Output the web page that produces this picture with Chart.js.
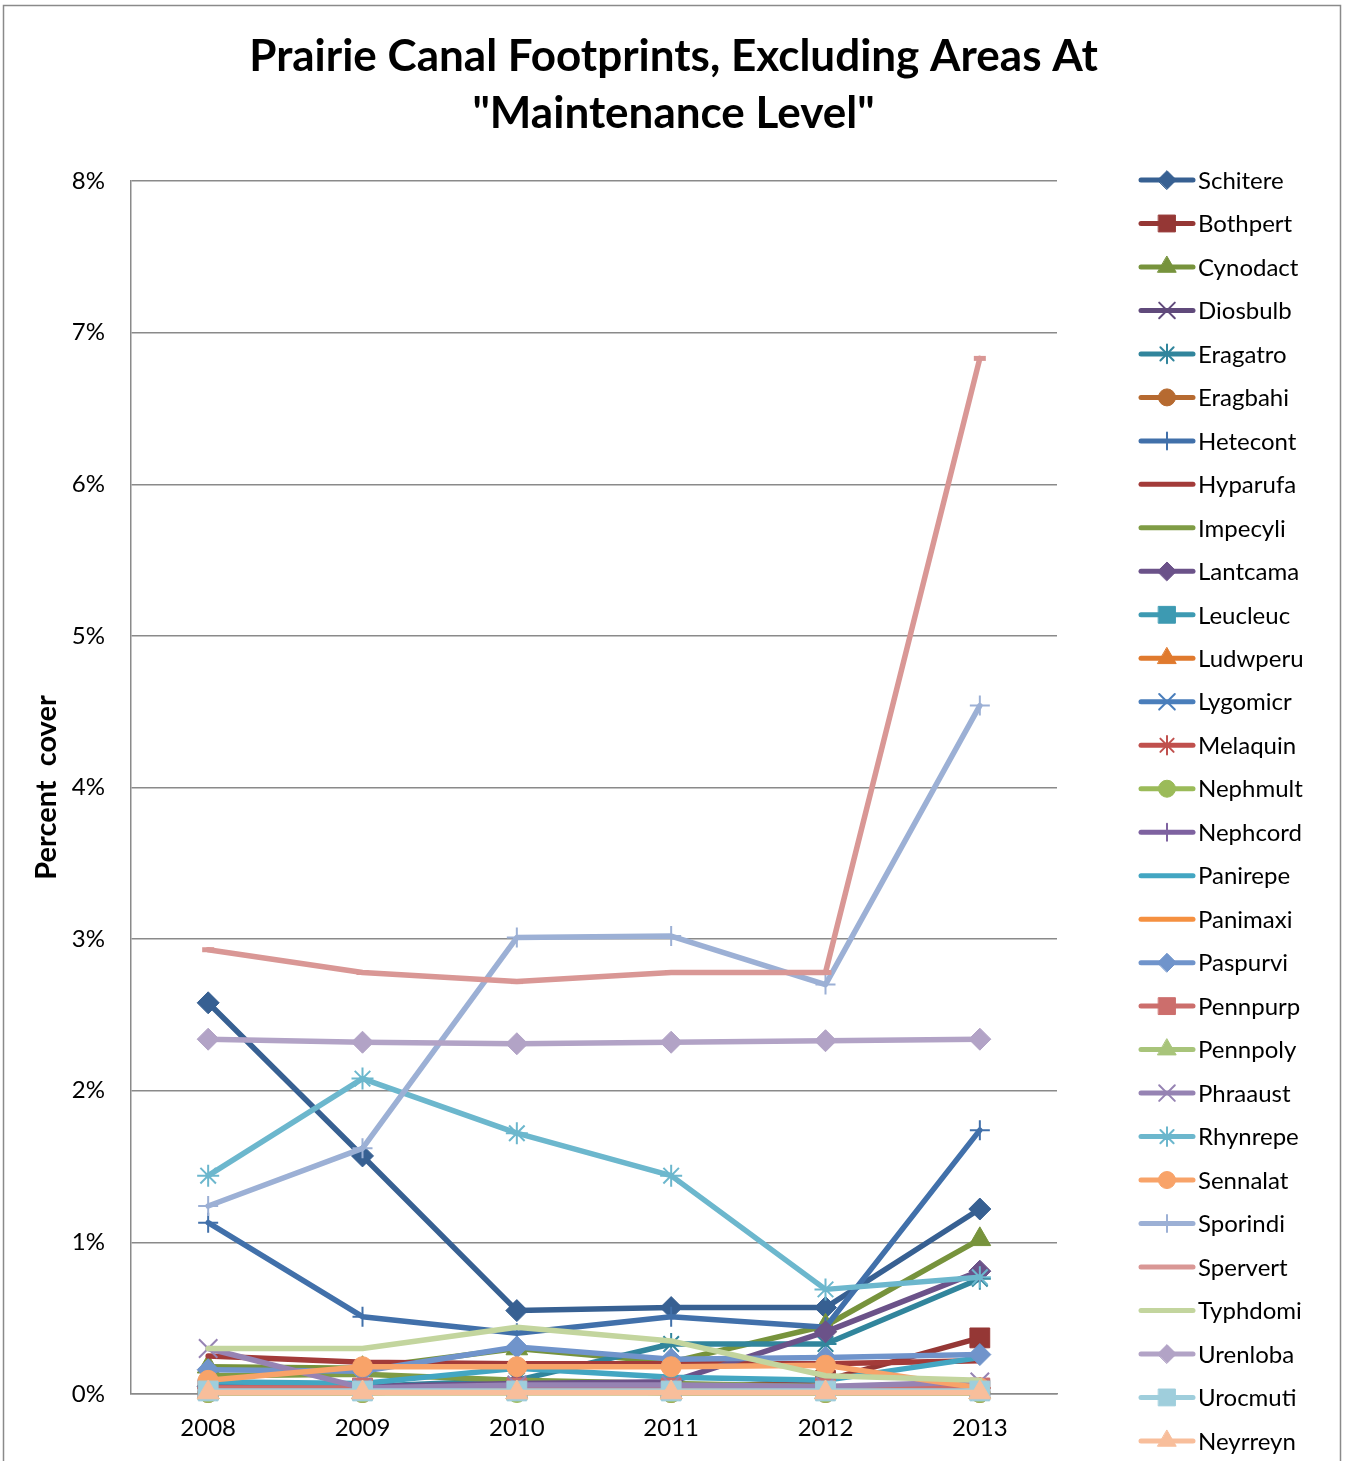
<!DOCTYPE html>
<html>
<head>
<meta charset="utf-8">
<title>Prairie Canal Footprints</title>
<script src="https://cdn.jsdelivr.net/npm/chart.js@4/dist/chart.umd.min.js"></script>
<style>
  html, body { margin: 0; padding: 0; background: #fff; }
  #wrap { width: 1347px; height: 1461px; }
</style>
</head>
<body>
<div id="wrap"><canvas id="c" width="1347" height="1461"></canvas></div>
<script>
// Survey years
const years = ['2008', '2009', '2010', '2011', '2012', '2013'];

// Percent cover per species, one value per year
const schitere = [2.58, 1.57, 0.55, 0.57, 0.57, 1.22];
const bothpert = [0.03, 0.03, 0.03, 0.03, 0.09, 0.37];
const cynodact = [0.18, 0.17, 0.30, 0.21, 0.45, 1.02];
const diosbulb = [0.02, 0.02, 0.02, 0.02, 0.02, 0.02];
const eragatro = [0.05, 0.05, 0.09, 0.33, 0.33, 0.76];
const eragbahi = [0.01, 0.01, 0.02, 0.01, 0.01, 0.01];
const hetecont = [1.13, 0.51, 0.40, 0.51, 0.44, 1.74];
const hyparufa = [0.25, 0.21, 0.20, 0.20, 0.20, 0.22];
const impecyli = [0.12, 0.13, 0.09, 0.07, 0.05, 0.05];
const lantcama = [0.05, 0.05, 0.07, 0.08, 0.41, 0.81];
const leucleuc = [0.03, 0.03, 0.03, 0.03, 0.03, 0.03];
const ludwperu = [0.01, 0.01, 0.01, 0.01, 0.01, 0.01];
const lygomicr = [0.02, 0.02, 0.02, 0.02, 0.02, 0.02];
const melaquin = [0.04, 0.04, 0.04, 0.04, 0.04, 0.04];
const nephmult = [0.01, 0.01, 0.01, 0.01, 0.01, 0.01];
const nephcord = [0.02, 0.02, 0.02, 0.02, 0.02, 0.02];
const panirepe = [0.08, 0.07, 0.17, 0.11, 0.09, 0.24];
const panimaxi = [0.02, 0.02, 0.02, 0.02, 0.02, 0.02];
const paspurvi = [0.16, 0.15, 0.31, 0.23, 0.24, 0.26];
const pennpurp = [0.04, 0.04, 0.04, 0.04, 0.04, 0.04];
const pennpoly = [0.01, 0.01, 0.01, 0.01, 0.01, 0.01];
const phraaust = [0.30, 0.04, 0.06, 0.06, 0.05, 0.08];
const rhynrepe = [1.44, 2.08, 1.72, 1.44, 0.69, 0.77];
const sennalat = [0.09, 0.18, 0.18, 0.18, 0.19, 0.04];
const sporindi = [1.24, 1.62, 3.01, 3.02, 2.70, 4.54];
const spervert = [2.93, 2.78, 2.72, 2.78, 2.78, 6.83];
const typhdomi = [0.30, 0.30, 0.44, 0.35, 0.12, 0.09];
const urenloba = [2.34, 2.32, 2.31, 2.32, 2.33, 2.34];
const urocmuti = [0.02, 0.02, 0.02, 0.02, 0.02, 0.02];
const neyrreyn = [0.01, 0.01, 0.01, 0.01, 0.01, 0.01];

// Y axis tick values (percent)
const yTicks = [0, 1, 2, 3, 4, 5, 6, 7, 8];

const FONT = 'Lato, "Open Sans", "DejaVu Sans", sans-serif';

// Series: name, values, colour, marker
const series = [
  ['Schitere', schitere, '#376092', 'rectRot'],
  ['Bothpert', bothpert, '#953735', 'rect'],
  ['Cynodact', cynodact, '#77933C', 'triangle'],
  ['Diosbulb', diosbulb, '#604A7B', 'crossRot'],
  ['Eragatro', eragatro, '#31859C', 'star'],
  ['Eragbahi', eragbahi, '#B66A30', 'circle'],
  ['Hetecont', hetecont, '#4170AA', 'cross'],
  ['Hyparufa', hyparufa, '#A33B39', null],
  ['Impecyli', impecyli, '#7F9C45', null],
  ['Lantcama', lantcama, '#6B5289', 'rectRot'],
  ['Leucleuc', leucleuc, '#3D9AB2', 'rect'],
  ['Ludwperu', ludwperu, '#E07A2E', 'triangle'],
  ['Lygomicr', lygomicr, '#4A7EBB', 'crossRot'],
  ['Melaquin', melaquin, '#C0504D', 'star'],
  ['Nephmult', nephmult, '#9BBB59', 'circle'],
  ['Nephcord', nephcord, '#7E62A0', 'cross'],
  ['Panirepe', panirepe, '#43A6C2', null],
  ['Panimaxi', panimaxi, '#F59040', null],
  ['Paspurvi', paspurvi, '#7094CB', 'rectRot'],
  ['Pennpurp', pennpurp, '#CC6E6C', 'rect'],
  ['Pennpoly', pennpoly, '#A8C47A', 'triangle'],
  ['Phraaust', phraaust, '#9683B3', 'crossRot'],
  ['Rhynrepe', rhynrepe, '#6CB7CD', 'star'],
  ['Sennalat', sennalat, '#F8A369', 'circle'],
  ['Sporindi', sporindi, '#9CB0D5', 'cross'],
  ['Spervert', spervert, '#D99795', 'line'],
  ['Typhdomi', typhdomi, '#C3D59E', null],
  ['Urenloba', urenloba, '#B2A3C6', 'rectRot'],
  ['Urocmuti', urocmuti, '#9FCEDC', 'rect'],
  ['Neyrreyn', neyrreyn, '#F8BE9B', 'triangle']
];

const markerRadius = { rectRot: 11, rect: 14, triangle: 12.5, circle: 10, crossRot: 13, star: 11, cross: 10, line: 6 };
const strokeOnly = { crossRot: true, star: true, cross: true, line: true };

const N = series.length;
const datasets = series.map(([name, values, color, marker], i) => ({
  label: name,
  data: values,
  borderColor: color,
  backgroundColor: color,
  borderWidth: 5.5,
  borderJoinStyle: 'round',
  borderCapStyle: 'round',
  tension: 0,
  fill: false,
  clip: false,
  order: N - i,
  pointStyle: marker || 'circle',
  pointRadius: marker ? markerRadius[marker] : 0,
  pointHoverRadius: marker ? markerRadius[marker] : 0,
  pointBackgroundColor: color,
  pointBorderColor: color,
  pointBorderWidth: marker && strokeOnly[marker] ? (marker === 'line' ? 5 : 2) : 1,
  showInLegendMarker: marker && marker !== 'line'
}));

// White page with a thin grey frame round the chart
const framePlugin = {
  id: 'frame',
  beforeDraw(chart) {
    const ctx = chart.ctx;
    ctx.save();
    ctx.fillStyle = '#ffffff';
    ctx.fillRect(0, 0, chart.width, chart.height);
    ctx.strokeStyle = '#8a8a8a';
    ctx.lineWidth = 1.5;
    ctx.strokeRect(3.5, 5.5, 1337, 1475);
    ctx.restore();
  }
};

// Legend drawn down the right side: line sample, marker, name
const sideLegend = {
  id: 'sideLegend',
  afterDraw(chart) {
    const ctx = chart.ctx;
    const top = 180, step = 43.48;
    const x0 = 1141, x1 = 1193, xm = 1167, xt = 1198;
    chart.data.datasets.forEach((ds, i) => {
      const y = top + i * step;
      ctx.save();
      ctx.strokeStyle = ds.borderColor;
      ctx.lineWidth = 5;
      ctx.lineCap = 'round';
      ctx.beginPath();
      ctx.moveTo(x0, y);
      ctx.lineTo(x1, y);
      ctx.stroke();
      if (ds.showInLegendMarker) {
        ctx.fillStyle = ds.pointBackgroundColor;
        ctx.strokeStyle = ds.pointBorderColor;
        ctx.lineWidth = ds.pointBorderWidth;
        Chart.helpers.drawPoint(ctx, {
          pointStyle: ds.pointStyle,
          radius: ds.pointRadius * 0.85,
          rotation: 0,
          borderWidth: ds.pointBorderWidth
        }, xm, y);
      }
      ctx.fillStyle = '#000';
      ctx.font = '24px ' + FONT;
      ctx.textBaseline = 'middle';
      ctx.textAlign = 'left';
      ctx.fillText(ds.label, xt, y + 1);
      ctx.restore();
    });
  }
};

function build() {
  new Chart(document.getElementById('c'), {
    type: 'line',
    data: { labels: years, datasets },
    plugins: [framePlugin, sideLegend],
    options: {
      responsive: false,
      devicePixelRatio: 1,
      animation: false,
      events: [],
      layout: { padding: 0 },
      plugins: {
        legend: { display: false },
        tooltip: { enabled: false },
        title: {
          display: true,
          text: ['Prairie Canal Footprints, Excluding Areas At', '"Maintenance Level"'],
          color: '#000',
          font: { family: FONT, size: 44, weight: 'bold', lineHeight: 1.3 },
          padding: { top: 28.4, bottom: 38.2 }
        }
      },
      scales: {
        x: {
          type: 'category',
          offset: true,
          grid: { display: false, drawTicks: false },
          border: { display: true, color: '#8a8a8a', width: 1.5 },
          ticks: { color: '#000', font: { family: FONT, size: 24 }, padding: 20, maxRotation: 0 },
          afterFit(s) { s.height = 67; }
        },
        y: {
          type: 'linear',
          min: 0,
          max: 8,
          afterBuildTicks(s) { s.ticks = yTicks.map(v => ({ value: v })); },
          grid: { color: '#8a8a8a', lineWidth: 1.5, drawTicks: false },
          border: { display: true, color: '#8a8a8a', width: 1.5 },
          ticks: { color: '#000', font: { family: FONT, size: 24 }, padding: 26, callback: v => v + '%' },
          title: {
            display: true,
            text: 'Percent  cover',
            color: '#000',
            font: { family: FONT, size: 29, weight: 'bold' },
            padding: { top: 29 }
          },
          afterFit(s) { s.width = 131; }
        },
        // empty right-hand gutter that holds the legend
        gutter: {
          type: 'linear',
          position: 'right',
          display: true,
          grid: { display: false, drawTicks: false },
          border: { display: false },
          ticks: { display: false },
          afterFit(s) { s.width = 290; }
        }
      }
    }
  });
}

if (document.fonts && document.fonts.load) {
  Promise.all([
    document.fonts.load('24px Lato'),
    document.fonts.load('bold 44px Lato')
  ]).then(build, build);
} else {
  build();
}
</script>
</body>
</html>
